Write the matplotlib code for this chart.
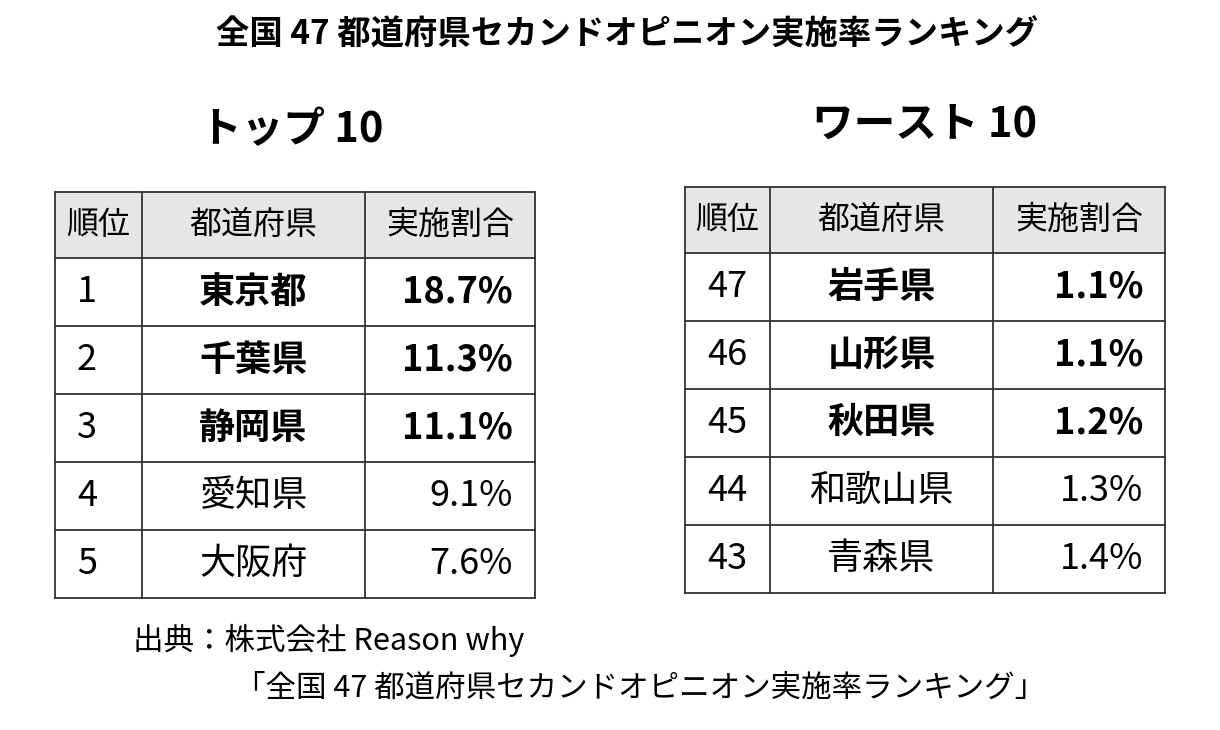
import matplotlib
matplotlib.use("Agg")
import matplotlib.pyplot as plt
from matplotlib.patches import Rectangle

plt.rcParams["font.family"] = "Noto Sans CJK JP"

title = "全国 47 都道府県セカンドオピニオン実施率ランキング"
headers = ["順位", "都道府県", "実施割合"]
top_ranks = ["1", "2", "3", "4", "5"]
top_prefs = ["東京都", "千葉県", "静岡県", "愛知県", "大阪府"]
top_vals = ["18.7%", "11.3%", "11.1%", "9.1%", "7.6%"]
worst_ranks = ["47", "46", "45", "44", "43"]
worst_prefs = ["岩手県", "山形県", "秋田県", "和歌山県", "青森県"]
worst_vals = ["1.1%", "1.1%", "1.2%", "1.3%", "1.4%"]
bold_rows = 3

fig = plt.figure(figsize=(12.2, 7.3), dpi=100)
ax = fig.add_axes([0, 0, 1, 1])
ax.set_xlim(0, 1220); ax.set_ylim(730, 0); ax.axis("off")

ax.text(627, 35, title, ha="center", va="center", fontsize=24, fontweight="bold")

def table(x0, cols, y0, hh, rh, label, lx, ly, ranks, prefs, vals):
    ax.text(lx, ly, label, ha="center", va="center", fontsize=30, fontweight="bold")
    xs = [x0]
    for c in cols:
        xs.append(xs[-1] + c)
    ax.add_patch(Rectangle((x0, y0), xs[-1]-x0, hh, facecolor="#e6e6e6", edgecolor="none"))
    ys = [y0, y0 + hh] + [y0 + hh + rh*(i+1) for i in range(len(ranks))]
    for y in ys:
        ax.plot([xs[0], xs[-1]], [y, y], color="#333", lw=1.3)
    for x in xs:
        ax.plot([x, x], [ys[0], ys[-1]], color="#333", lw=1.3)
    for j, h in enumerate(headers):
        ax.text((xs[j]+xs[j+1])/2, y0+hh/2, h, ha="center", va="center", fontsize=23)
    for i in range(len(ranks)):
        yc = ys[i+1] + rh/2
        w = "bold" if i < bold_rows else "normal"
        ax.text(xs[0]+22, yc, ranks[i], ha="left", va="center", fontsize=26)
        ax.text((xs[1]+xs[2])/2, yc, prefs[i], ha="center", va="center", fontsize=26, fontweight=w)
        ax.text(xs[3]-22, yc, vals[i], ha="right", va="center", fontsize=26, fontweight=w)

table(55, [87, 223, 170], 192, 66, 68, "トップ 10", 292, 130, top_ranks, top_prefs, top_vals)
table(685, [85, 223, 172], 187, 66, 68, "ワースト 10", 925, 125, worst_ranks, worst_prefs, worst_vals)
ax.text(133, 640, "出典：株式会社 Reason why", ha="left", va="center", fontsize=22)
ax.text(235, 688, "「" + title + "」", ha="left", va="center", fontsize=22)

fig.savefig("out.png", dpi=100)
